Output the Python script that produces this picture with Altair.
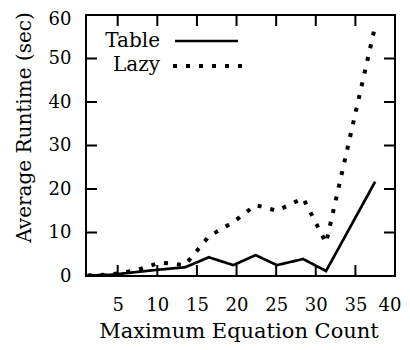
import altair as alt
import pandas as pd

# Data
eq_count = [1.2, 4.3, 7.3, 10.4, 13.5, 16.5, 19.6, 22.4, 25.1, 28.4, 31.3, 37.5]
table_rt = [0.1, 0.3, 0.9, 1.5, 2.0, 4.3, 2.5, 4.8, 2.5, 3.9, 1.15, 21.7]
lazy_rt = [0.1, 0.4, 1.3, 3.1, 2.5, 9.1, 12.4, 16.3, 15.0, 17.9, 7.6, 57.5]
series_names = ["Table", "Lazy"]
x_ticks = [5, 10, 15, 20, 25, 30, 35, 40]
y_ticks = [0, 10, 20, 30, 40, 50, 60]

FONT = "DejaVu Serif"
W, H = 309, 261
TICK = 11

rows = []
for name, vals in zip(series_names, [table_rt, lazy_rt]):
    for x, y in zip(eq_count, vals):
        rows.append({"x": x, "y": y, "series": name})
df = pd.DataFrame(rows)
one = pd.DataFrame({"k": [0]})

xscale = alt.Scale(domain=[1, 40], nice=False, zero=False)
yscale = alt.Scale(domain=[0, 60], nice=False)
XT = "Maximum Equation Count"
YT = "Average Runtime (sec)"
top_test = f"datum.value == {y_ticks[-1]}"

xaxis = alt.Axis(values=x_ticks, grid=False, domain=False, ticks=False, tickSize=0,
                 labelFont=FONT, labelFontSize=18, labelColor="black",
                 labelBaseline="alphabetic", labelPadding=34,
                 labelFlush=5, labelFlushOffset=6,
                 title=XT, titleFont=FONT, titleFontSize=21, titleFontWeight="normal",
                 titleColor="black", titleBaseline="alphabetic", titleY=61, titleX=W / 2 - 2)
yaxis = alt.Axis(values=y_ticks, grid=False, domain=False, ticks=False, tickSize=0,
                 labelFont=FONT, labelFontSize=18, labelColor="black",
                 labelPadding=15, labelFlush=False,
                 labelBaseline={"condition": {"test": top_test, "value": "alphabetic"}, "value": "middle"},
                 labelOffset={"condition": {"test": top_test, "value": 9.5}, "value": 0},
                 title=YT, titleFont=FONT, titleFontSize=20, titleFontWeight="normal",
                 titleColor="black", titleBaseline="alphabetic", titleAngle=270,
                 titleAlign="center", titleX=-56, titleY=112)

lines = alt.Chart(df).mark_line(color="black", strokeCap="butt", clip=True).encode(
    x=alt.X("x:Q", scale=xscale, axis=xaxis, title=XT),
    y=alt.Y("y:Q", scale=yscale, axis=yaxis, title=YT),
    strokeDash=alt.StrokeDash("series:N", scale=alt.Scale(domain=series_names, range=[[1, 0], [4, 9]]), legend=None),
    strokeWidth=alt.StrokeWidth("series:N", scale=alt.Scale(domain=series_names, range=[2.7, 4]), legend=None),
    detail="series:N",
)

xt_df = pd.DataFrame({"x": x_ticks})
yt_df = pd.DataFrame({"y": y_ticks})
bottom_ticks = alt.Chart(xt_df).mark_rule(color="black", strokeWidth=2).encode(
    x=alt.X("x:Q", scale=xscale, title=XT), y=alt.value(H), y2=alt.value(H - TICK))
top_ticks = alt.Chart(xt_df).mark_rule(color="black", strokeWidth=2).encode(
    x=alt.X("x:Q", scale=xscale, title=XT), y=alt.value(0), y2=alt.value(TICK))
left_ticks = alt.Chart(yt_df).mark_rule(color="black", strokeWidth=2).encode(
    y=alt.Y("y:Q", scale=yscale, title=YT), x=alt.value(0), x2=alt.value(TICK))
right_ticks = alt.Chart(yt_df).mark_rule(color="black", strokeWidth=2).encode(
    y=alt.Y("y:Q", scale=yscale, title=YT), x=alt.value(W), x2=alt.value(W - TICK))

leg_table_txt = alt.Chart(one).mark_text(text=series_names[0], font=FONT, fontSize=20,
                                         align="right", baseline="alphabetic", color="black").encode(
    x=alt.value(74), y=alt.value(32))
leg_lazy_txt = alt.Chart(one).mark_text(text=series_names[1], font=FONT, fontSize=20,
                                        align="right", baseline="alphabetic", color="black").encode(
    x=alt.value(74), y=alt.value(56))
leg_table_line = alt.Chart(one).mark_rule(color="black", strokeWidth=2.7).encode(
    x=alt.value(89), x2=alt.value(152), y=alt.value(26))
leg_lazy_line = alt.Chart(one).mark_rule(color="black", strokeWidth=4, strokeDash=[4, 9]).encode(
    x=alt.value(87), x2=alt.value(158), y=alt.value(51))

chart = alt.layer(
    lines, bottom_ticks, top_ticks, left_ticks, right_ticks,
    leg_table_txt, leg_lazy_txt, leg_table_line, leg_lazy_line,
).properties(
    width=W, height=H,
    autosize=alt.AutoSizeParams(type="none"),
    padding={"left": 78, "top": 7, "right": 7, "bottom": 66},
).configure_view(stroke="black", strokeWidth=2)

chart.save("out.html", embed_options={"renderer": "svg", "actions": False})
